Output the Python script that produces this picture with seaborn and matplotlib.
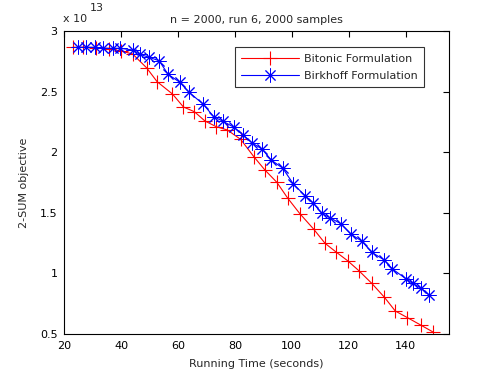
import numpy as np
import pandas as pd
import matplotlib
matplotlib.use("Agg")
import matplotlib.pyplot as plt
import seaborn as sns

# objective values are in units of 1e13
bitonic_time = [22.95, 26.67, 31.12, 35.68, 39.89, 44.0, 48.91, 52.63, 58.04, 61.89,
                65.75, 69.47, 73.47, 77.33, 82.0, 86.67, 90.53, 94.74, 98.6, 102.8,
                107.7, 111.7, 115.7, 119.6, 123.6, 128.1, 132.6, 136.4, 140.7, 145.5, 149.5]
bitonic_obj = [2.868, 2.868, 2.866, 2.858, 2.837, 2.813, 2.699, 2.584, 2.482, 2.375,
               2.336, 2.259, 2.212, 2.185, 2.108, 1.964, 1.855, 1.753, 1.621, 1.495,
               1.366, 1.249, 1.175, 1.106, 1.023, 0.919, 0.803, 0.690, 0.635, 0.572, 0.519]

birkhoff_time = [24.91, 27.61, 30.77, 33.47, 36.98, 39.54, 44.0, 46.56, 49.82, 53.33,
                 56.49, 60.6, 63.86, 68.77, 72.53, 75.79, 79.54, 82.81, 85.96, 89.61,
                 92.77, 96.84, 100.6, 104.7, 107.6, 110.5, 113.6, 117.4, 120.8, 124.6,
                 128.1, 132.5, 135.4, 140.1, 142.5, 145.5, 148.4]
birkhoff_obj = [2.868, 2.868, 2.868, 2.860, 2.860, 2.860, 2.846, 2.810, 2.785, 2.757,
                2.645, 2.579, 2.496, 2.400, 2.295, 2.257, 2.209, 2.146, 2.080, 2.026,
                1.937, 1.869, 1.737, 1.642, 1.580, 1.497, 1.458, 1.409, 1.324, 1.268,
                1.175, 1.112, 1.037, 0.957, 0.919, 0.878, 0.820]

x_ticks = [20, 40, 60, 80, 100, 120, 140]
y_ticks = [0.5, 1, 1.5, 2, 2.5, 3]

sns.set_style("white")
plt.rcParams["font.family"] = ["DejaVu Sans"]
plt.rcParams["font.size"] = 8

fig = plt.figure(figsize=(4.95, 3.75), dpi=100)
ax = fig.add_axes([0.13, 0.1093, 0.7765, 0.8072])

df_b = pd.DataFrame({"t": bitonic_time, "obj": bitonic_obj})
df_k = pd.DataFrame({"t": birkhoff_time, "obj": birkhoff_obj})

sns.lineplot(data=df_b, x="t", y="obj", ax=ax, color="#ff0000", lw=0.8, sort=False,
             marker="+", markersize=10, markeredgewidth=0.8, markeredgecolor="#ff0000",
             label="Bitonic Formulation")
sns.lineplot(data=df_k, x="t", y="obj", ax=ax, color="#0000ff", lw=0.8, sort=False,
             marker=(8, 2, 0), markersize=10, markeredgewidth=0.7, markeredgecolor="#0000ff",
             label="Birkhoff Formulation")

ax.set_xlim(20, 155.2)
ax.set_ylim(0.5, 3)
ax.set_xticks(x_ticks)
ax.set_yticks(y_ticks)
ax.set_yticklabels(["%g" % v for v in y_ticks])
ax.tick_params(direction="in", length=4, width=0.8, top=True, right=True,
               labelsize=8, colors="black", pad=5)
for s in ax.spines.values():
    s.set_color("black")
    s.set_linewidth(0.8)

ax.set_title("n = 2000, run 6, 2000 samples", fontsize=8, pad=6)
ax.set_xlabel("Running Time (seconds)", fontsize=8, labelpad=6)
ax.set_ylabel("2-SUM objective", fontsize=8, labelpad=8)

# MATLAB-style exponent label
fig.text(63 / 495, 1 - 22 / 375, "x 10", fontsize=8, ha="left", va="baseline")
fig.text(90 / 495, 1 - 11 / 375, "13", fontsize=8, ha="left", va="baseline")

leg = ax.legend(loc="upper right", bbox_to_anchor=(0.951, 0.965), fontsize=8,
                frameon=True, fancybox=False, handlelength=5.2, borderpad=0.55,
                labelspacing=0.65, handletextpad=0.5)
leg.get_frame().set_edgecolor("black")
leg.get_frame().set_linewidth(0.8)

fig.savefig("out.png", dpi=100)
